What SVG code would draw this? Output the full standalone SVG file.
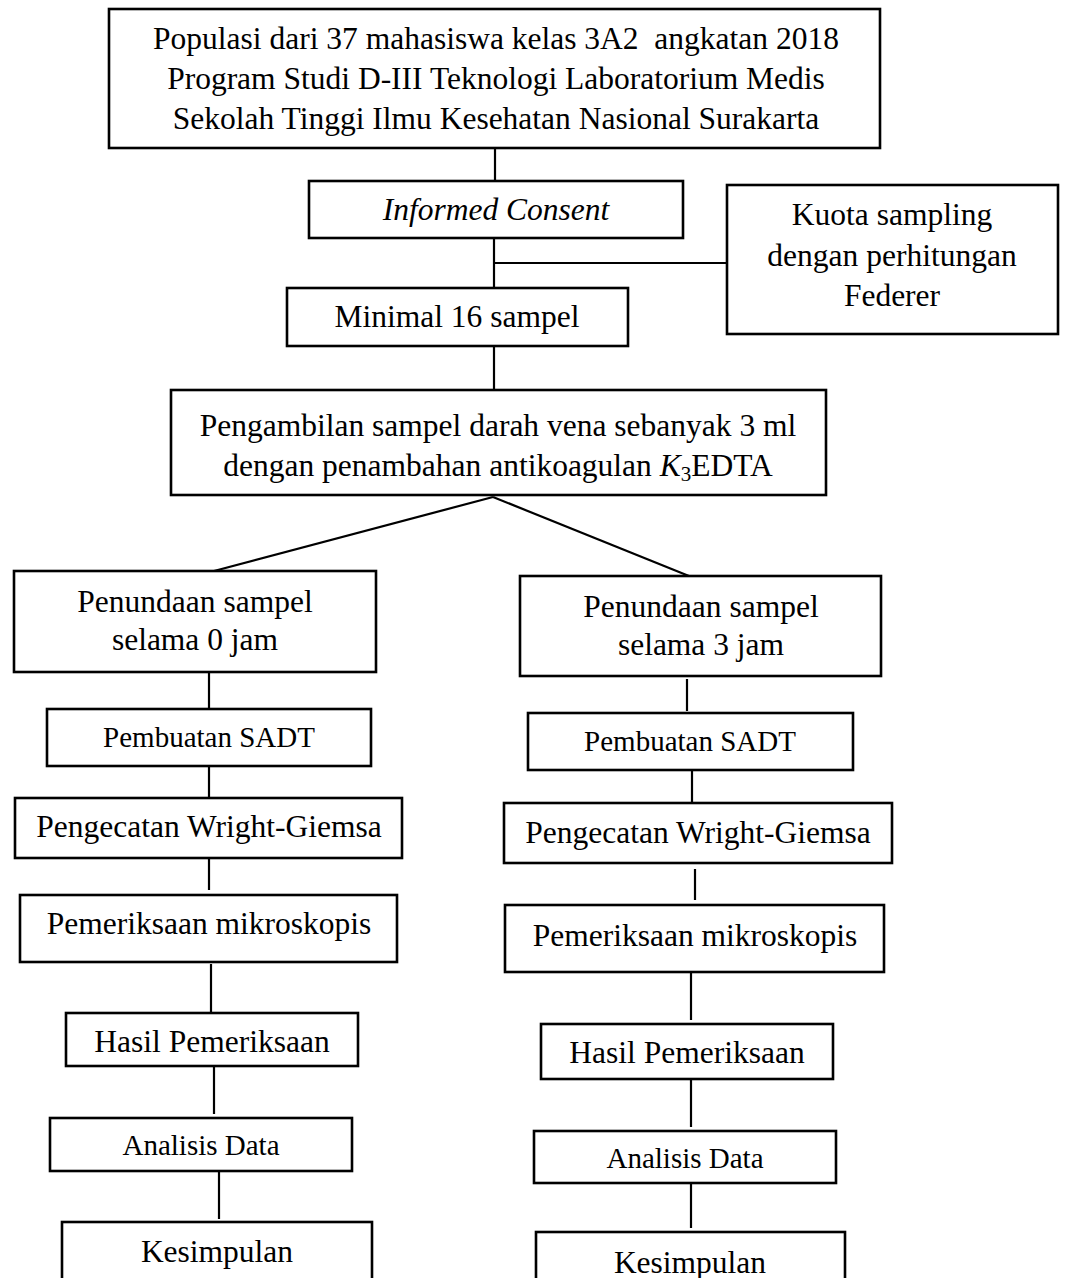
<svg xmlns="http://www.w3.org/2000/svg" width="1067" height="1278" viewBox="0 0 1067 1278">
<style>
  .box { fill: #ffffff; stroke: #000000; stroke-width: 2.6; }
  .t { font-family: "Liberation Serif", "Times New Roman", serif; font-size: 31.5px; fill: #000000; text-anchor: middle; }
  .s { font-size: 29px; }
  .conn line { stroke: #000000; stroke-width: 2.2; }
</style>
<rect width="1067" height="1278" fill="#ffffff"/>

<g id="connectors" class="conn">
  <line x1="495" y1="148" x2="495" y2="181"/>
  <line x1="494" y1="231" x2="494" y2="288"/>
  <line x1="494" y1="263" x2="727" y2="263"/>
  <line x1="494" y1="346" x2="494" y2="390"/>
  <line x1="493" y1="497" x2="214" y2="571"/>
  <line x1="493" y1="497" x2="689" y2="576"/>
  <line x1="209" y1="672" x2="209" y2="708"/>
  <line x1="209" y1="766" x2="209" y2="798"/>
  <line x1="209" y1="858" x2="209" y2="890"/>
  <line x1="211" y1="964" x2="211" y2="1014"/>
  <line x1="214" y1="1066" x2="214" y2="1114"/>
  <line x1="219" y1="1171" x2="219" y2="1219"/>
  <line x1="687" y1="679" x2="687" y2="711"/>
  <line x1="692" y1="770" x2="692" y2="802"/>
  <line x1="695" y1="869" x2="695" y2="900"/>
  <line x1="691" y1="972" x2="691" y2="1020"/>
  <line x1="691" y1="1079" x2="691" y2="1127"/>
  <line x1="691" y1="1179" x2="691" y2="1228"/>
</g>

<g id="populasi">
  <rect class="box" x="109" y="9" width="771" height="139"/>
  <text class="t" x="496" y="49">Populasi dari 37 mahasiswa kelas 3A2&#160; angkatan 2018</text>
  <text class="t" x="496" y="89">Program Studi D-III Teknologi Laboratorium Medis</text>
  <text class="t" x="496" y="129">Sekolah Tinggi Ilmu Kesehatan Nasional Surakarta</text>
</g>

<g id="informed-consent">
  <rect class="box" x="309" y="181" width="374" height="57"/>
  <text class="t" x="496" y="220" font-style="italic">Informed Consent</text>
</g>

<g id="kuota">
  <rect class="box" x="727" y="185" width="331" height="149"/>
  <text class="t" x="892" y="225">Kuota sampling</text>
  <text class="t" x="892" y="266">dengan perhitungan</text>
  <text class="t" x="892" y="306">Federer</text>
</g>

<g id="minimal">
  <rect class="box" x="287" y="288" width="341" height="58"/>
  <text class="t" x="457" y="327">Minimal 16 sampel</text>
</g>

<g id="pengambilan">
  <rect class="box" x="171" y="390" width="655" height="105"/>
  <text class="t" x="498" y="436">Pengambilan sampel darah vena sebanyak 3 ml</text>
  <text class="t" x="498" y="476">dengan penambahan antikoagulan <tspan font-style="italic">K</tspan><tspan font-size="21" dy="5">3</tspan><tspan dy="-5">EDTA</tspan></text>
</g>

<g id="penundaan-0">
  <rect class="box" x="14" y="571" width="362" height="101"/>
  <text class="t" x="195" y="612">Penundaan sampel</text>
  <text class="t" x="195" y="650">selama 0 jam</text>
</g>

<g id="penundaan-3">
  <rect class="box" x="520" y="576" width="361" height="100"/>
  <text class="t" x="701" y="617">Penundaan sampel</text>
  <text class="t" x="701" y="655">selama 3 jam</text>
</g>

<g id="sadt-left">
  <rect class="box" x="47" y="709" width="324" height="57"/>
  <text class="t s" x="209" y="747">Pembuatan SADT</text>
</g>

<g id="sadt-right">
  <rect class="box" x="528" y="713" width="325" height="57"/>
  <text class="t s" x="690" y="751">Pembuatan SADT</text>
</g>

<g id="pengecatan-left">
  <rect class="box" x="15" y="798" width="387" height="60"/>
  <text class="t" x="209" y="837">Pengecatan Wright-Giemsa</text>
</g>

<g id="pengecatan-right">
  <rect class="box" x="504" y="803" width="388" height="60"/>
  <text class="t" x="698" y="843">Pengecatan Wright-Giemsa</text>
</g>

<g id="pemeriksaan-left">
  <rect class="box" x="20" y="895" width="377" height="67"/>
  <text class="t" x="209" y="934">Pemeriksaan mikroskopis</text>
</g>

<g id="pemeriksaan-right">
  <rect class="box" x="505" y="905" width="379" height="67"/>
  <text class="t" x="695" y="946">Pemeriksaan mikroskopis</text>
</g>

<g id="hasil-left">
  <rect class="box" x="66" y="1013" width="292" height="53"/>
  <text class="t" x="212" y="1052">Hasil Pemeriksaan</text>
</g>

<g id="hasil-right">
  <rect class="box" x="541" y="1024" width="292" height="55"/>
  <text class="t" x="687" y="1063">Hasil Pemeriksaan</text>
</g>

<g id="analisis-left">
  <rect class="box" x="50" y="1118" width="302" height="53"/>
  <text class="t s" x="201" y="1155">Analisis Data</text>
</g>

<g id="analisis-right">
  <rect class="box" x="534" y="1131" width="302" height="52"/>
  <text class="t s" x="685" y="1168">Analisis Data</text>
</g>

<g id="kesimpulan-left">
  <rect class="box" x="62" y="1222" width="310" height="80"/>
  <text class="t" x="217" y="1262">Kesimpulan</text>
</g>

<g id="kesimpulan-right">
  <rect class="box" x="536" y="1232" width="309" height="80"/>
  <text class="t" x="690" y="1273">Kesimpulan</text>
</g>
</svg>
